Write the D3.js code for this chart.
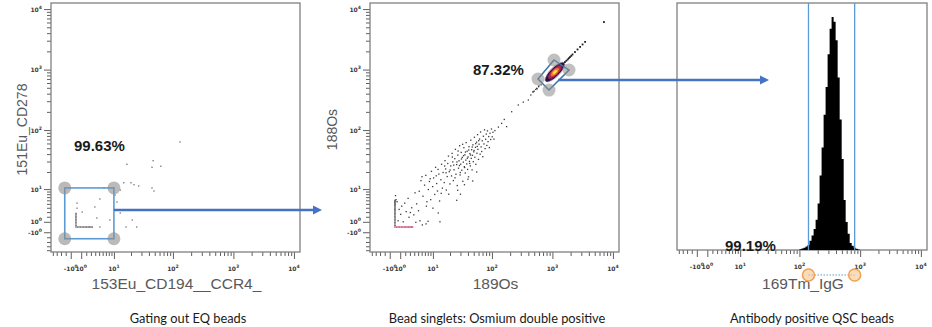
<!DOCTYPE html>
<html>
<head>
<meta charset="utf-8">
<script src="https://cdn.jsdelivr.net/npm/d3@7"></script>
<style>
  body { margin: 0; background: #fff; }
  svg { display: block; }
  .tick line { stroke: #4d4d4d; }
  .domain { display: none; }
</style>
</head>
<body>
<svg width="932" height="327"></svg>
<script>
// ---- data ----
const cofactor = 5;
const channelMin = -5.5;
const channelMax = 12600;

const majorTicks = [-1, 1, 10, 100, 1000, 10000];
const majorLabels = [["-10", "0"], ["10", "0"], ["10", "1"], ["10", "2"], ["10", "3"], ["10", "4"]];
const minorTicks = [-5, -4, -3, -2,
  2, 3, 4, 5, 6, 7, 8, 9,
  20, 30, 40, 50, 60, 70, 80, 90,
  200, 300, 400, 500, 600, 700, 800, 900,
  2000, 3000, 4000, 5000, 6000, 7000, 8000, 9000];

// panel 1: 153Eu_CD194__CCR4_ vs 151Eu_CD278
const leftEvents = [[131, 63.5], [17, 27], [47, 31], [63, 25], [45, 24], [15, 13], [20, 13], [22.5, 12],
  [27, 11.4], [45, 10.5], [48.5, 9.2], [13, 9.6], [6.4, 10.5], [5.2, 6.4], [11.4, 5.5], [10.5, 7.7],
  [3.9, 4.2], [1.2, 3.0], [4.4, 1.75], [8.4, 1.35], [5.2, 0], [21, 1.35], [16.4, 0], [25, 0],
  [13, 2.8], [0.2, 5.2], [0.2, 3.9]];
const leftFloorEvents = [[0, 0], [0, 0.3], [0, 0.6], [0, 0.9], [0, 1.2], [0, 1.5], [0, 1.8], [0, 2.1],
  [0, 2.4], [0, 2.7], [0.3, 0], [0.6, 0], [0.9, 0], [1.2, 0], [1.5, 0], [1.8, 0], [2.1, 0], [2.4, 0],
  [2.7, 0], [3.0, 0], [3.3, 0]];
const leftGateX = [-2.2, 10];
const leftGateY = [-2.3, 10.5];

// panel 2: 189Os vs 188Os
const midEvents = [
  // near zero
  [0.6, 1.2], [1.1, 2.5], [0.8, 3.6], [1.6, 1.0], [2.2, 3.1], [1.9, 5.2], [2.8, 1.9], [3.4, 4.0],
  [2.6, 6.6], [3.9, 2.4], [4.4, 0.9], [5.1, 3.3], [1.3, 4.4], [0.4, 5.6], [3.1, 2.9], [5.5, 1.2],
  [6.2, 0.4], [4.6, 5.0], [0.2, 6.2], [0.1, 7.5], [7.4, 0.6], [8.1, 1.1],
  [10, 3.9], [13.4, 1.0], [7.5, 4.4], [12.5, 2.8], [4.2, 8.5], [6.1, 16.6],
  // 5 - 15
  [5.3, 9.1], [5.8, 14.2], [6.4, 7.3], [6.9, 11.8], [7.3, 17.5], [7.7, 5.6], [8.2, 9.8], [8.6, 13.7],
  [9.1, 6.2], [9.4, 20.5], [9.9, 11.1], [10.3, 15.8], [10.8, 7.9], [11.2, 24], [11.7, 12.6], [12.1, 9.2],
  [12.8, 18.4], [13.2, 5.8], [13.9, 14.7], [14.3, 27], [14.8, 10.4], [15.2, 19.6],
  // 15 - 50
  [15.9, 13.1], [16.4, 31], [16.8, 22.5], [17.3, 9.6], [17.9, 16.7], [18.3, 27.8], [18.8, 37], [19.4, 20.2],
  [19.9, 12.4], [20.6, 25.3], [21.2, 17.1], [21.7, 41], [22.3, 29.6], [22.8, 14.2], [23.4, 21.8], [24.1, 33.5],
  [24.7, 48], [25.2, 18.3], [25.9, 26.7], [26.5, 11.6], [27.1, 38.4], [27.8, 23.2], [28.4, 30.9], [29.1, 55],
  [29.6, 17.8], [30.3, 27.1], [30.9, 42.6], [31.6, 21.4], [32.2, 35.2], [32.9, 13.8], [33.5, 29.3], [34.2, 51],
  [34.8, 24.6], [35.6, 38.9], [36.1, 19.2], [36.9, 31.7], [37.4, 62], [38.2, 27.4], [38.8, 44.5], [39.5, 22.1],
  [40.3, 35.8], [40.9, 16.5], [41.7, 53], [42.4, 30.2], [43.1, 40.7], [43.9, 25.3], [44.6, 68], [45.4, 33.9],
  [46.1, 47.2], [46.9, 21.7], [47.6, 38.1], [48.4, 57], [49.2, 29.8], [49.9, 43.6],
  [17.1, 19.4], [20.1, 21.6], [23.1, 26.1], [26.2, 29.5], [28.9, 25.7], [31.2, 33.1], [33.8, 37.6], [36.4, 43.2],
  [39.1, 34.1], [41.3, 46.8], [44.2, 38.6], [47.2, 52.4], [16.2, 25.3], [21.9, 35.7], [27.4, 44.9], [32.6, 58.1],
  [24.3, 15.9], [29.8, 19.6], [35.2, 23.8], [42.8, 27.9], [12.4, 22.1], [8.9, 15.3], [11.5, 17.2], [14.1, 8.3],
  [26, 6], [30, 8], [27, 9.5], [40, 15], [19, 8], [35, 12], [48, 14], [56, 20],
  // 50 - 110
  [51.3, 76], [52.1, 35.4], [53.4, 51.8], [54.2, 26.9], [55.7, 63], [56.5, 41.3], [57.8, 84], [58.6, 47.9],
  [59.9, 32.6], [61.2, 58.4], [62.4, 71], [63.7, 39.8], [64.9, 93], [66.3, 52.7], [67.8, 44.1], [69.1, 66.5],
  [70.6, 36.2], [72.2, 79], [73.8, 58.9], [75.3, 101], [77.1, 49.3], [78.8, 70.4], [80.6, 86], [82.4, 55.6],
  [84.3, 97], [86.2, 64.3], [88.5, 78.1], [90.7, 51.2], [93.1, 88.6], [95.4, 69.8], [98.2, 104], [101, 77.5],
  [104, 92], [108, 70.8], [112, 98], [50.6, 45.9], [53.9, 59.7], [57.1, 53.6], [60.4, 66.8],
  // sparse tail towards the singlets
  [128, 112], [145, 129], [160, 150], [175, 114], [212, 201], [273, 260], [330, 290], [400, 314],
  [440, 380], [476, 427], [483, 431], [500, 440], [530, 470], [549, 490], [560, 480], [590, 520],
  [600, 540], [650, 560]];
const midAxisEvents = [[0, 0.3], [0, 0.6], [0, 0.9], [0, 1.2], [0, 1.5], [0, 1.8], [0, 2.1], [0, 2.4],
  [0, 2.7], [0, 3.0], [0, 3.3], [0, 3.6], [0, 3.9], [0, 4.2], [0, 4.5], [0, 4.8], [0, 5.1], [0, 5.4],
  [0, 5.7], [0, 6.0]];
const midFloorEvents = [[0, 0], [0.3, 0], [0.6, 0], [0.9, 0], [1.2, 0], [1.5, 0], [1.8, 0], [2.1, 0],
  [2.4, 0], [2.7, 0], [3.0, 0], [3.3, 0], [3.6, 0]];
const midStreakEvents = [[1610, 1330], [1700, 1400], [1790, 1470], [1870, 1540], [1950, 1610],
  [2050, 1690], [2150, 1780], [2360, 1950], [2600, 2150], [2870, 2370], [3150, 2600], [3470, 2870],
  [7100, 6100]];
const midCluster = [1100, 910];
// density contour half-axes, decades along / across the diagonal
const densityMajor = [0.153, 0.106, 0.065, 0.033];
const densityMinor = [0.053, 0.039, 0.026, 0.015];
const midGate = [[1063, 1440], [1879, 984], [878, 459], [578, 699]];

// panel 3: 169Tm_IgG histogram
const histChannels = [96, 104, 112, 121, 131, 141, 152, 165, 178, 192, 207, 223, 241, 260, 280, 303,
  326, 352, 380, 410, 443, 478, 516, 556, 600, 648, 699, 754, 814, 878, 948, 1023];
const histCounts = [0, 3, 6, 10, 15, 21, 40, 62, 90, 130, 200, 320, 440, 580, 700, 840,
  950, 1000, 980, 900, 740, 560, 390, 215, 120, 70, 30, 18, 10, 5, 2, 0];
const histGate = [141, 812];

const gateStats = ["99.63%", "87.32%", "99.19%"];
const xTitles = ["153Eu_CD194__CCR4_", "189Os", "169Tm_IgG"];
const yTitles = ["151Eu_CD278", "188Os", null];
const captions = ["Gating out EQ beads", "Bead singlets: Osmium double positive", "Antibody positive QSC beads"];

// ---- layout ----
const svg = d3.select("svg");
const T = v => Math.asinh(v / cofactor);
const arrowBlue = "#4472c4";
const gateBlue = "#5b9bd5";

const panels = [
  { x0: 51, y0: 3, w: 249, h: 249, yAxis: true, yTitleGap: 24 },
  { x0: 370, y0: 3, w: 249, h: 249, yAxis: true, yTitleGap: 33 },
  { x0: 677, y0: 3, w: 250, h: 247, yAxis: false }
];

const defs = svg.append("defs");
defs.append("filter").attr("id", "soft")
  .append("feGaussianBlur").attr("stdDeviation", 0.6);

const tickLabel = (sel, parts) => {
  sel.append("tspan").text(parts[0]);
  sel.append("tspan").attr("dy", -3).attr("font-size", 4.6).text(parts[1]);
};

panels.forEach((p, i) => {
  const g = svg.append("g");
  p.xs = d3.scaleLinear().domain([T(channelMin), T(channelMax)]).range([p.x0, p.x0 + p.w]);
  p.ys = d3.scaleLinear().domain([T(channelMin), T(channelMax)]).range([p.y0 + p.h, p.y0]);
  p.X = v => p.xs(T(v));
  p.Y = v => p.ys(T(v));
  p.g = g;

  g.append("rect")
    .attr("x", p.x0).attr("y", p.y0).attr("width", p.w).attr("height", p.h)
    .attr("fill", "#fff");

  // x axis
  const gxMinor = g.append("g").attr("transform", `translate(0,${p.y0 + p.h})`);
  gxMinor.call(d3.axisBottom(p.xs).tickValues(minorTicks.map(T)).tickSize(4).tickSizeOuter(0).tickFormat(""));
  const gxMajor = g.append("g").attr("transform", `translate(0,${p.y0 + p.h})`);
  gxMajor.call(d3.axisBottom(p.xs).tickValues(majorTicks.map(T)).tickSize(7).tickSizeOuter(0).tickFormat(""));
  g.selectAll(".tick line").attr("stroke-width", 0.9);

  majorTicks.forEach((v, k) => {
    g.append("text")
      .attr("x", p.X(v)).attr("y", p.y0 + p.h + 19)
      .attr("text-anchor", "middle")
      .attr("font-family", "DejaVu Sans").attr("font-size", 6).attr("font-weight", "bold")
      .attr("fill", "#3a3a3a")
      .call(tickLabel, majorLabels[k]);
  });

  if (p.yAxis) {
    const gyMinor = g.append("g").attr("transform", `translate(${p.x0},0)`);
    gyMinor.call(d3.axisLeft(p.ys).tickValues(minorTicks.map(T)).tickSize(4).tickSizeOuter(0).tickFormat(""));
    const gyMajor = g.append("g").attr("transform", `translate(${p.x0},0)`);
    gyMajor.call(d3.axisLeft(p.ys).tickValues(majorTicks.map(T)).tickSize(7).tickSizeOuter(0).tickFormat(""));
    g.selectAll(".tick line").attr("stroke-width", 0.9);
    majorTicks.forEach((v, k) => {
      g.append("text")
        .attr("x", p.x0 - 9).attr("y", p.Y(v) + 2.5)
        .attr("text-anchor", "end")
        .attr("font-family", "DejaVu Sans").attr("font-size", 6).attr("font-weight", "bold")
        .attr("fill", "#3a3a3a")
        .call(tickLabel, majorLabels[k]);
    });
  }

  g.append("rect")
    .attr("x", p.x0).attr("y", p.y0).attr("width", p.w).attr("height", p.h)
    .attr("fill", "none").attr("stroke", "#808080").attr("stroke-width", 1.3);

  // titles
  g.append("text")
    .attr("x", p.x0 + p.w / 2 + 1).attr("y", 289)
    .attr("text-anchor", "middle")
    .attr("font-family", "Liberation Sans").attr("font-size", 15.5)
    .attr("fill", "#595959")
    .text(xTitles[i]);
  if (yTitles[i]) {
    g.append("text")
      .attr("transform", `translate(${p.x0 - p.yTitleGap},${p.y0 + p.h / 2 + 2}) rotate(-90)`)
      .attr("text-anchor", "middle")
      .attr("font-family", "Liberation Sans").attr("font-size", 14)
      .attr("fill", "#595959")
      .text(yTitles[i]);
  }

  svg.append("text")
    .attr("x", [188, 497, 812][i]).attr("y", 323)
    .attr("text-anchor", "middle")
    .attr("font-family", "Lato").attr("font-size", 12.8)
    .attr("fill", "#1a1a1a")
    .text(captions[i]);
});

const dot = (g, data, P, fill, size) => {
  g.append("g").selectAll("rect").data(data).join("rect")
    .attr("x", d => P.X(d[0]) - size / 2)
    .attr("y", d => P.Y(d[1]) - size / 2)
    .attr("width", size).attr("height", size)
    .attr("fill", fill);
};

// ---- panel 1 ----
const P1 = panels[0];
dot(P1.g, leftEvents, P1, "#6e6e6e", 1.3);
dot(P1.g, leftFloorEvents, P1, "#4a4a4a", 1.3);
P1.g.append("rect")
  .attr("x", P1.X(leftGateX[0])).attr("y", P1.Y(leftGateY[1]))
  .attr("width", P1.X(leftGateX[1]) - P1.X(leftGateX[0]))
  .attr("height", P1.Y(leftGateY[0]) - P1.Y(leftGateY[1]))
  .attr("fill", "none").attr("stroke", gateBlue).attr("stroke-width", 1.6);
P1.g.append("g").selectAll("circle")
  .data([[leftGateX[0], leftGateY[0]], [leftGateX[1], leftGateY[0]], [leftGateX[0], leftGateY[1]], [leftGateX[1], leftGateY[1]]])
  .join("circle")
  .attr("cx", d => P1.X(d[0])).attr("cy", d => P1.Y(d[1])).attr("r", 6.5)
  .attr("fill", "#8c8c8c").attr("opacity", 0.6);
P1.g.append("text")
  .attr("x", 74).attr("y", 151)
  .attr("font-family", "Liberation Sans").attr("font-weight", "bold").attr("font-size", 15)
  .attr("fill", "#1a1a1a").text(gateStats[0]);

// ---- panel 2 ----
const P2 = panels[1];
dot(P2.g, midEvents, P2, "#3a3a3a", 1.3);
dot(P2.g, midAxisEvents, P2, "#3a3a3a", 1.3);
dot(P2.g, midFloorEvents, P2, "#c2386a", 1.4);
dot(P2.g, midStreakEvents, P2, "#1e1e1e", 1.8);

const decadePx = P2.xs(T(1000)) - P2.xs(T(100));
const densityColors = ["#2c0f47", "#b0284e", "#f27b22", "#ffe34d"];
const cg = P2.g.append("g")
  .attr("transform", `translate(${P2.X(midCluster[0])},${P2.Y(midCluster[1])}) rotate(-45)`)
  .attr("filter", "url(#soft)");
densityMajor.forEach((m, k) => {
  cg.append("ellipse")
    .attr("rx", m * decadePx * Math.SQRT2)
    .attr("ry", densityMinor[k] * decadePx * Math.SQRT2)
    .attr("fill", densityColors[k]);
});

P2.g.append("path")
  .attr("d", d3.line().x(d => P2.X(d[0])).y(d => P2.Y(d[1])).curve(d3.curveLinearClosed)(midGate))
  .attr("fill", "none").attr("stroke", "#3b77a3").attr("stroke-width", 1.5);
P2.g.append("g").selectAll("circle").data(midGate).join("circle")
  .attr("cx", d => P2.X(d[0])).attr("cy", d => P2.Y(d[1])).attr("r", 6.5)
  .attr("fill", "#8c8c8c").attr("opacity", 0.55);
P2.g.append("text")
  .attr("x", 473).attr("y", 75)
  .attr("font-family", "Liberation Sans").attr("font-weight", "bold").attr("font-size", 15)
  .attr("fill", "#1a1a1a").text(gateStats[1]);

// ---- panel 3 ----
const P3 = panels[2];
const hy = d3.scaleLinear().domain([0, 1060]).range([P3.y0 + P3.h, P3.y0]);
const hist = histChannels.map((c, k) => [c, histCounts[k]]);
P3.g.append("path")
  .attr("d", d3.area().x(d => P3.X(d[0])).y0(hy(0)).y1(d => hy(d[1])).curve(d3.curveStep)(hist))
  .attr("fill", "#000");
P3.g.append("g").selectAll("line").data(histGate).join("line")
  .attr("x1", d => P3.X(d)).attr("x2", d => P3.X(d))
  .attr("y1", P3.y0).attr("y2", P3.y0 + P3.h)
  .attr("stroke", gateBlue).attr("stroke-width", 1.3);
P3.g.append("line")
  .attr("x1", P3.X(histGate[0])).attr("x2", P3.X(histGate[1]))
  .attr("y1", 275).attr("y2", 275)
  .attr("stroke", gateBlue).attr("stroke-width", 1).attr("stroke-dasharray", "1.5,1.5");
P3.g.append("g").selectAll("circle").data(histGate).join("circle")
  .attr("cx", d => P3.X(d)).attr("cy", 275).attr("r", 6)
  .attr("fill", "#f8c48c").attr("fill-opacity", 0.6)
  .attr("stroke", "#f0a050").attr("stroke-width", 1.5);
P3.g.append("text")
  .attr("x", 725).attr("y", 251)
  .attr("font-family", "Liberation Sans").attr("font-weight", "bold").attr("font-size", 15)
  .attr("fill", "#1a1a1a").text(gateStats[2]);

// ---- arrows between panels ----
const arrow = (x1, y, x2) => {
  svg.append("line")
    .attr("x1", x1).attr("x2", x2 - 7).attr("y1", y).attr("y2", y)
    .attr("stroke", arrowBlue).attr("stroke-width", 2.5);
  svg.append("path")
    .attr("d", `M${x2},${y} L${x2 - 9},${y - 4.5} L${x2 - 9},${y + 4.5} Z`)
    .attr("fill", arrowBlue);
};
arrow(P1.X(leftGateX[1]), P1.Y(3.5), 322);
arrow(P2.X(1250), P2.Y(672), 769);
</script>
</body>
</html>
